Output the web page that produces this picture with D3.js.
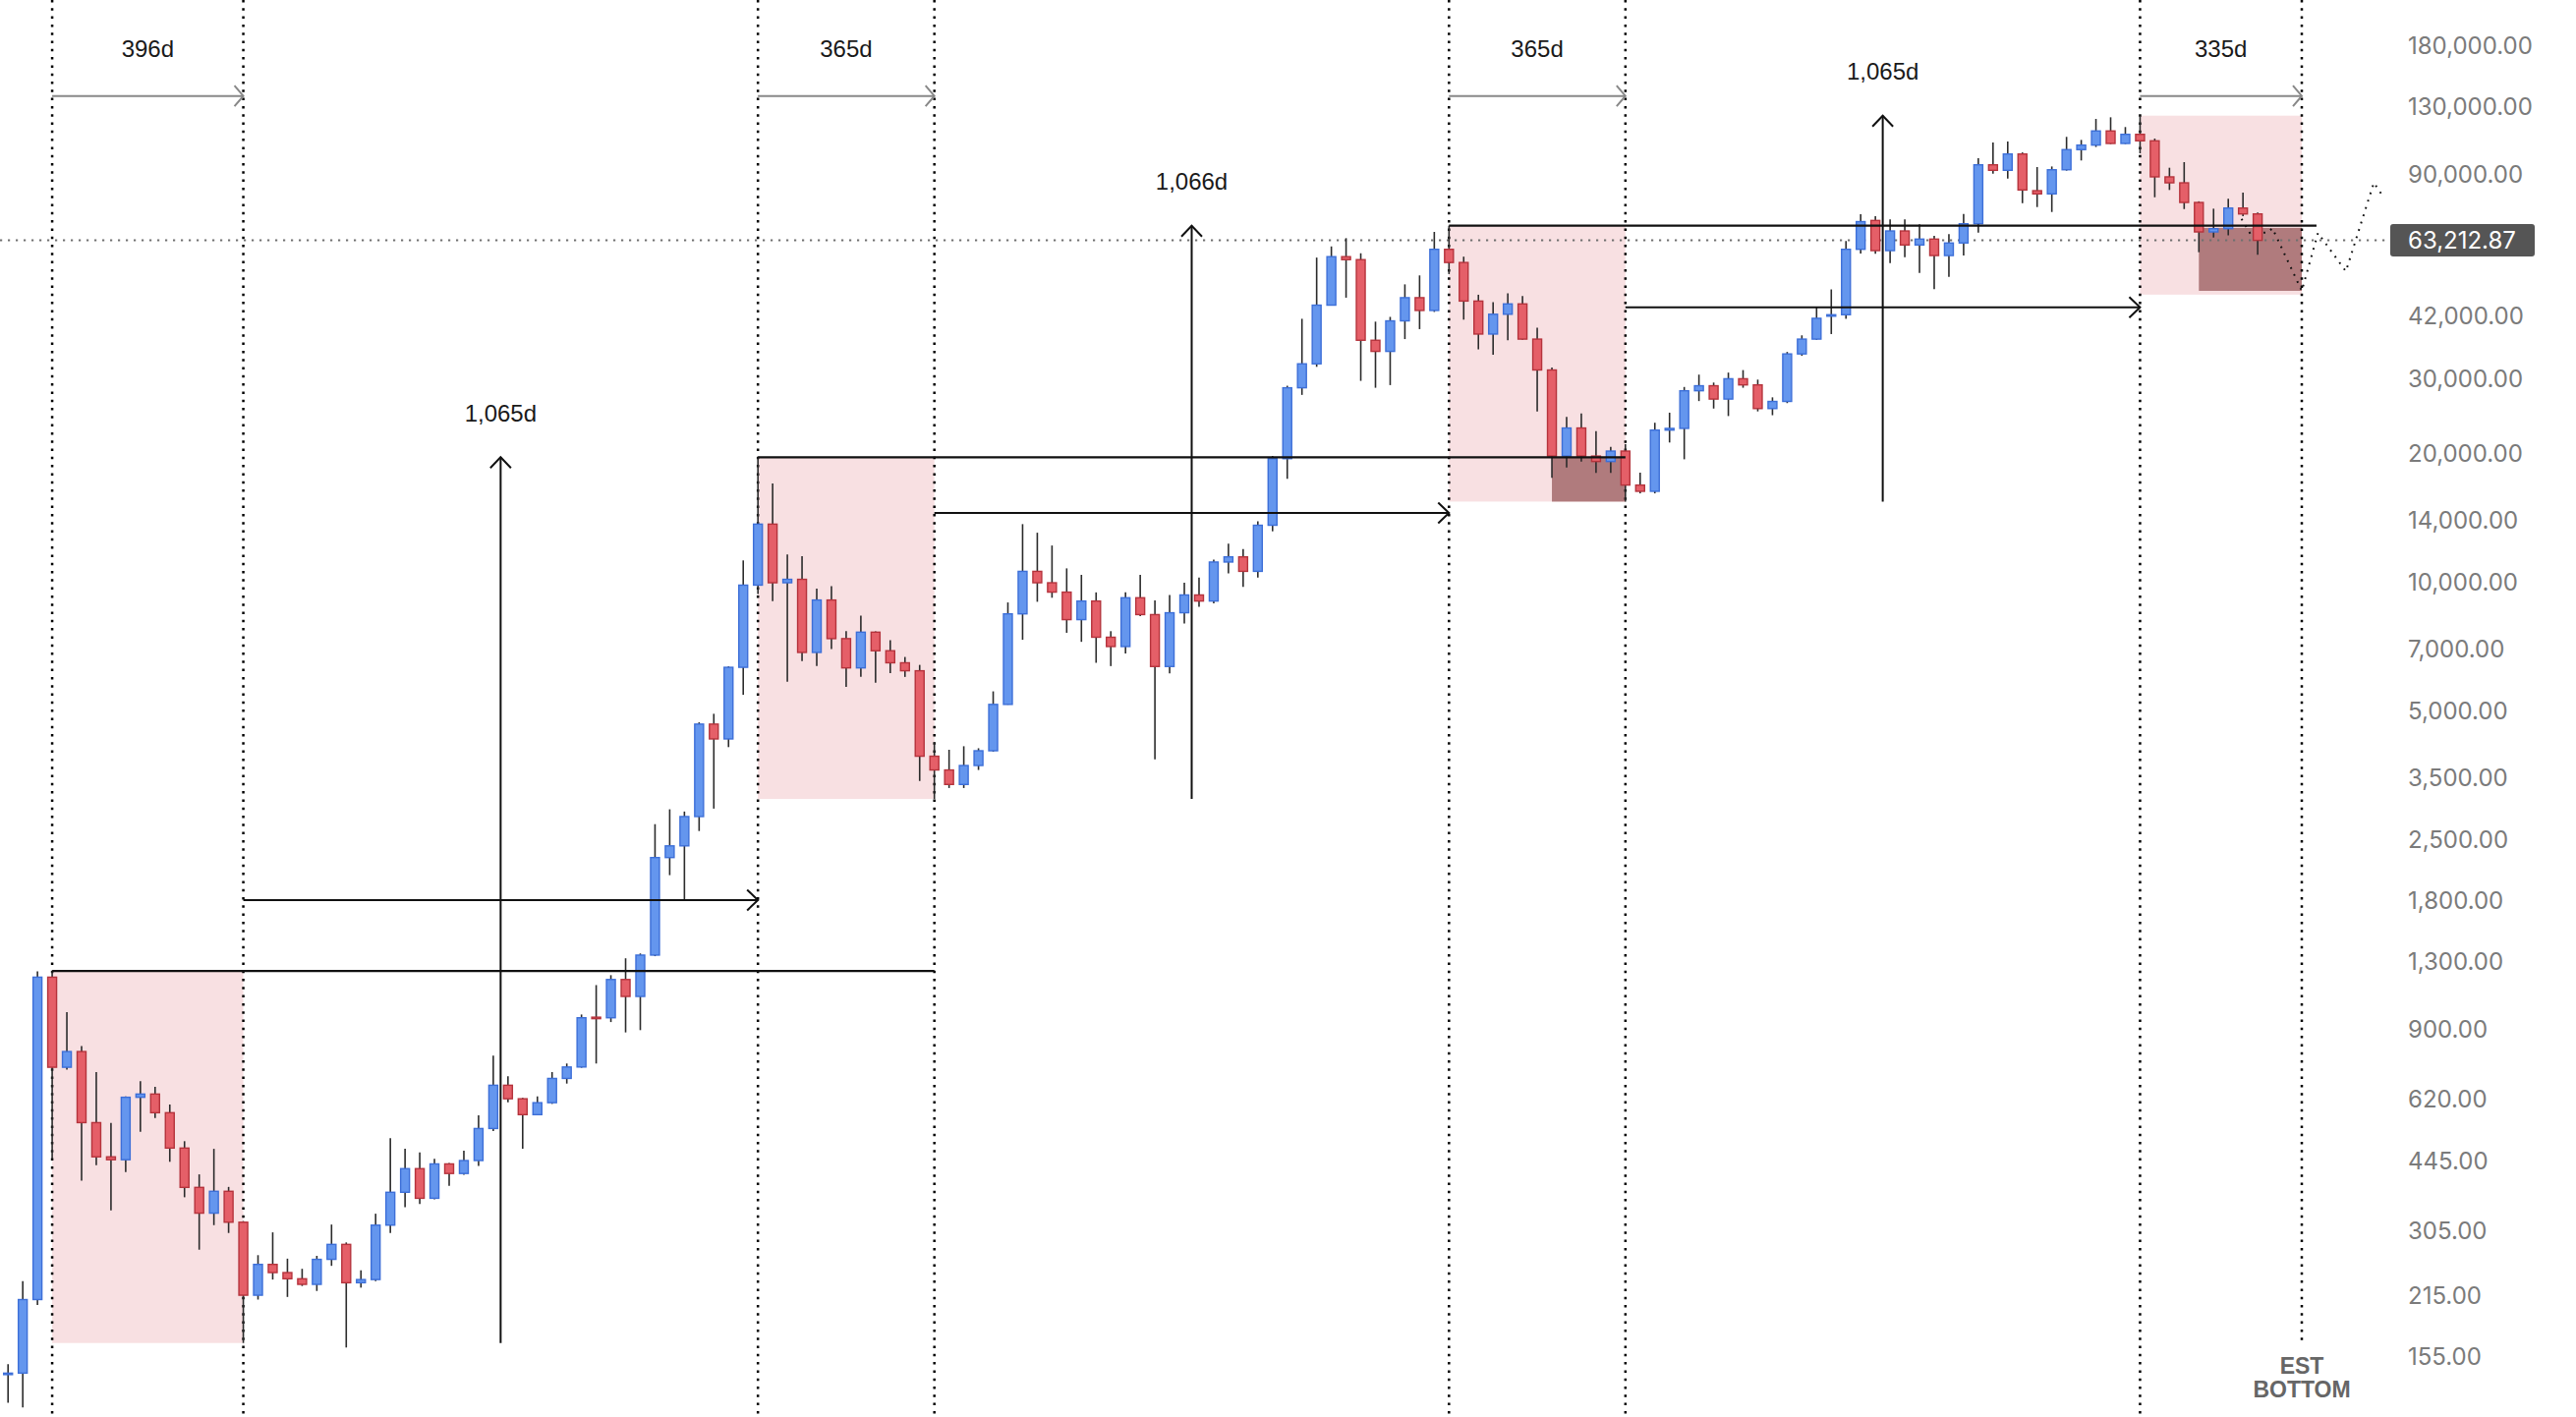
<!DOCTYPE html>
<html>
<head>
<meta charset="utf-8">
<script src="https://cdn.jsdelivr.net/npm/d3@7/dist/d3.min.js"></script>
<style>
  html, body { margin: 0; padding: 0; background: #fff; overflow: hidden; }
</style>
</head>
<body>
<div id="chart"></div>
<script>
// drawing space
const width = 2621,
  height = 1442;

// monthly candles, Sep 2013 .. Jun 2026
const months = [
  "2013-09","2013-10","2013-11","2013-12",
  "2014-01","2014-02","2014-03","2014-04","2014-05","2014-06","2014-07","2014-08","2014-09","2014-10","2014-11","2014-12",
  "2015-01","2015-02","2015-03","2015-04","2015-05","2015-06","2015-07","2015-08","2015-09","2015-10","2015-11","2015-12",
  "2016-01","2016-02","2016-03","2016-04","2016-05","2016-06","2016-07","2016-08","2016-09","2016-10","2016-11","2016-12",
  "2017-01","2017-02","2017-03","2017-04","2017-05","2017-06","2017-07","2017-08","2017-09","2017-10","2017-11","2017-12",
  "2018-01","2018-02","2018-03","2018-04","2018-05","2018-06","2018-07","2018-08","2018-09","2018-10","2018-11","2018-12",
  "2019-01","2019-02","2019-03","2019-04","2019-05","2019-06","2019-07","2019-08","2019-09","2019-10","2019-11","2019-12",
  "2020-01","2020-02","2020-03","2020-04","2020-05","2020-06","2020-07","2020-08","2020-09","2020-10","2020-11","2020-12",
  "2021-01","2021-02","2021-03","2021-04","2021-05","2021-06","2021-07","2021-08","2021-09","2021-10","2021-11","2021-12",
  "2022-01","2022-02","2022-03","2022-04","2022-05","2022-06","2022-07","2022-08","2022-09","2022-10","2022-11","2022-12",
  "2023-01","2023-02","2023-03","2023-04","2023-05","2023-06","2023-07","2023-08","2023-09","2023-10","2023-11","2023-12",
  "2024-01","2024-02","2024-03","2024-04","2024-05","2024-06","2024-07","2024-08","2024-09","2024-10","2024-11","2024-12",
  "2025-01","2025-02","2025-03","2025-04","2025-05","2025-06","2025-07","2025-08","2025-09","2025-10","2025-11","2025-12",
  "2026-01","2026-02","2026-03","2026-04","2026-05","2026-06"
];

const opens = [
  141, 142, 211, 1197,
  737, 802, 547, 455, 448, 627, 638, 577, 477, 386, 336, 378,
  320, 216, 255, 244, 236, 229, 262, 284, 231, 235, 315, 376,
  427, 364, 438, 416, 446, 530, 669, 622, 571, 609, 694, 738,
  965, 962, 1182, 1079, 1348, 2279, 2427, 2842, 4675, 4316, 6347, 9879,
  13720, 10006, 10193, 6876, 9118, 7407, 6327, 7669, 6939, 6503, 6230, 3933,
  3652, 3378, 3741, 4050, 5198, 8463, 10640, 10006, 9514, 8204, 9068, 7463,
  7098, 9230, 8430, 6375, 8514, 9370, 9068, 11187, 11502, 10640, 13637, 19518,
  28586, 32520, 44600, 57900, 56980, 36920, 34770, 40980, 46430, 43340, 60240, 56110,
  45590, 38170, 42470, 44900, 37150, 31460, 19790, 23020, 19790, 19220, 20330, 16930,
  16370, 22760, 22970, 28130, 28900, 26900, 30010, 29030, 25560, 26560, 34300, 37150,
  42190, 42360, 60240, 70370, 59820, 66500, 61660, 63650, 58250, 62330, 69120, 94940,
  92170, 100620, 82600, 81190, 92450, 103030, 105570, 113930, 106510, 111870, 108030, 88980,
  86170, 77520, 66150, 67310, 75220, 72870
];

const highs = [
  149, 233, 1235, 1237,
  991, 826, 718, 546, 630, 684, 663, 603, 495, 414, 475, 387,
  322, 268, 303, 263, 249, 267, 316, 287, 247, 335, 503, 475,
  466, 450, 440, 470, 569, 785, 702, 625, 630, 718, 752, 979,
  1147, 1210, 1325, 1360, 2728, 2955, 2920, 4720, 4942, 6380, 11285, 19666,
  17077, 11650, 11550, 9693, 9818, 7710, 8388, 7700, 7340, 6710, 6430, 4243,
  4072, 4150, 4105, 5576, 9000, 13720, 13100, 12228, 10812, 10440, 9500, 7710,
  9500, 10440, 9100, 9370, 10006, 10290, 11330, 12345, 12000, 13930, 19800, 28900,
  41440, 57620, 61180, 63970, 58970, 40810, 41870, 49880, 52340, 66150, 68400, 57900,
  47170, 45320, 47500, 46870, 39480, 31900, 24450, 24890, 22630, 20800, 21110, 18100,
  23680, 25000, 28710, 30680, 29400, 31020, 31440, 29870, 27150, 34670, 37910, 44110,
  48540, 63000, 72790, 72000, 70760, 70760, 68910, 64750, 65400, 72850, 98360, 107080,
  107640, 101500, 93800, 94100, 110360, 108560, 121540, 122620, 116350, 123700, 109350, 93460,
  96310, 78000, 74970, 79050, 81740, 73400
];

const lows = [
  121, 118, 205, 450,
  728, 400, 435, 341, 419, 521, 561, 443, 366, 276, 315, 302,
  167, 211, 235, 214, 227, 221, 253, 163, 225, 233, 302, 347,
  353, 362, 389, 413, 433, 523, 610, 475, 570, 605, 675, 735,
  752, 940, 889, 900, 1340, 2073, 1804, 2629, 2966, 4130, 5473, 9414,
  9068, 5874, 6565, 6389, 7004, 5711, 6027, 5840, 6150, 6027, 3442, 3124,
  3314, 3314, 3652, 4030, 5190, 7360, 9032, 9230, 7643, 7280, 6503, 6389,
  6840, 8355, 3868, 6140, 8040, 8790, 8950, 10520, 9790, 10290, 13200, 17510,
  27510, 32000, 44500, 46430, 29670, 28586, 29000, 37150, 39200, 43000, 52710, 41250,
  35150, 34150, 36920, 37000, 25170, 17600, 18600, 19220, 18080, 18080, 15490, 16190,
  16190, 21290, 19450, 26610, 25560, 24550, 28590, 25170, 24660, 26320, 33950, 37000,
  38170, 41440, 58890, 58830, 55940, 57730, 53050, 48580, 51950, 58250, 65910, 90500,
  88150, 77220, 75630, 73650, 92000, 97190, 104500, 106200, 106200, 101000, 79720, 82910,
  74810, 59310, 64190, 64980, 72000, 58500
];

const closes = [
  142, 211, 1197, 737,
  802, 547, 455, 448, 627, 638, 577, 477, 386, 336, 378, 320,
  216, 255, 244, 236, 229, 262, 284, 231, 235, 315, 376, 427,
  364, 438, 416, 446, 530, 669, 622, 571, 609, 694, 738, 962,
  962, 1182, 1079, 1348, 2279, 2427, 2842, 4675, 4316, 6347, 9879, 13720,
  10006, 10193, 6876, 9118, 7407, 6327, 7669, 6939, 6503, 6230, 3933, 3652,
  3378, 3741, 4050, 5198, 8463, 10640, 10006, 9514, 8204, 9068, 7463, 7098,
  9230, 8430, 6375, 8514, 9370, 9068, 11187, 11502, 10640, 13637, 19518, 28586,
  32520, 44600, 57900, 56980, 36920, 34770, 40980, 46430, 43340, 60240, 56110, 45590,
  38170, 42470, 44900, 37150, 31460, 19790, 23020, 19790, 19220, 20330, 16930, 16370,
  22760, 22970, 28130, 28900, 26900, 30010, 29030, 25560, 26560, 34300, 37150, 41550,
  42360, 60240, 69930, 59820, 66500, 61660, 63650, 58250, 62330, 69120, 94940, 92170,
  100620, 82910, 81190, 92450, 103030, 105570, 113930, 106510, 111870, 108030, 88980, 86170,
  77520, 66150, 67310, 75220, 72870, 63212.87
];

// price axis
const yTicks = [180000, 130000, 90000, 42000, 30000, 20000, 14000, 10000, 7000, 5000,
  3500, 2500, 1800, 1300, 900, 620, 445, 305, 215, 155];
const lastPrice = 63212.87;

// cycle markers (tops & bottoms, plus projected bottom)
const cycleMarks = ["2013-12", "2015-01", "2017-12", "2018-12", "2021-11", "2022-11", "2025-10", "2026-09"];

// top -> bottom spans
const bearSpans = [
  { from: "2013-12", to: "2015-01", label: "396d" },
  { from: "2017-12", to: "2018-12", label: "365d" },
  { from: "2021-11", to: "2022-11", label: "365d" },
  { from: "2025-10", to: "2026-09", label: "335d" }
];

// bottom -> top spans
const bullSpans = [
  { from: "2015-01", to: "2017-12", low: 167, high: 19666, label: "1,065d" },
  { from: "2018-12", to: "2021-11", low: 3124, high: 68400, label: "1,066d" },
  { from: "2022-11", to: "2025-10", low: 15490, high: 123700, label: "1,065d" }
];

// bear market boxes
const bearZones = [
  { from: "2013-12", to: "2015-01", top: 1237, bottom: 167 },
  { from: "2017-12", to: "2018-12", top: 19666, bottom: 3124 },
  { from: "2021-11", to: "2022-11", top: 68400, bottom: 15490 },
  { from: "2025-10", to: "2026-09", top: 123700, bottom: 47200 }
];

// below previous ATH
const deepZones = [
  { from: "2022-06", to: "2022-11", top: 19666, bottom: 15490 },
  { from: "2026-02", to: "2026-09", top: 67600, bottom: 48170 }
];

// previous cycle highs
const athLines = [
  { from: "2013-12", to: "2018-12", price: 1237 },
  { from: "2017-12", to: "2022-11", price: 19666 },
  { from: "2021-11", to: "2026-10", price: 68400 }
];

const levelArrows = [
  { from: "2015-01", to: "2017-12", price: 1813 },
  { from: "2018-12", to: "2021-11", price: 14570 },
  { from: "2022-11", to: "2025-10", price: 44100 }
];

// projected path (month number since Sep 2013, price)
const projMonth = [151.9, 152.5, 153.7, 154.0, 156.0, 157.1, 159.0, 160.9, 161.4];
const projPrice = [71000, 65500, 66000, 67500, 48170, 65800, 53500, 86200, 81300];

// month string -> month number
const mi = m => {
  const [yy, mm] = m.split("-").map(Number);
  return (yy - 2013) * 12 + mm - 9;
};

const candles = months.map((m, i) => ({
  m, i: mi(m), o: opens[i], h: highs[i], l: lows[i], c: closes[i]
}));

// scales
const xScale = d3.scaleLinear()
  .domain([0, 156])
  .range([8.2, 2342]);

const yScale = d3.scaleLog()
  .domain([155, 180000])
  .range([1380.8, 46.8]);

const xm = m => xScale(mi(m));

const svg = d3.select("#chart")
  .append("svg")
  .attr("width", width)
  .attr("height", height)
  .style("display", "block");

const annoFont = "'Liberation Sans', Arial, Helvetica, sans-serif";

// pink boxes
svg.selectAll("rect.zone")
  .data(bearZones)
  .join("rect")
  .attr("class", "zone")
  .attr("x", d => xm(d.from))
  .attr("width", d => xm(d.to) - xm(d.from))
  .attr("y", d => yScale(d.top))
  .attr("height", d => yScale(d.bottom) - yScale(d.top))
  .attr("fill", "#f8e0e2");

svg.selectAll("rect.deep")
  .data(deepZones)
  .join("rect")
  .attr("class", "deep")
  .attr("x", d => xm(d.from))
  .attr("width", d => xm(d.to) - xm(d.from))
  .attr("y", d => yScale(d.top))
  .attr("height", d => yScale(d.bottom) - yScale(d.top))
  .attr("fill", "#b07b7d");

// vertical dotted cycle lines
svg.selectAll("line.cycle")
  .data(cycleMarks)
  .join("line")
  .attr("class", "cycle")
  .attr("x1", d => xm(d))
  .attr("x2", d => xm(d))
  .attr("y1", 0)
  .attr("y2", (d, i) => i === cycleMarks.length - 1 ? 1366 : height)
  .attr("stroke", "#000")
  .attr("stroke-width", 2.5)
  .attr("stroke-dasharray", "2.5,5.8");

// last price dotted line
svg.append("line")
  .attr("x1", 0)
  .attr("x2", 2432)
  .attr("y1", yScale(lastPrice))
  .attr("y2", yScale(lastPrice))
  .attr("stroke", "#707070")
  .attr("stroke-width", 2)
  .attr("stroke-dasharray", "2.2,5.8");

// projection
const proj = projMonth.map((p, i) => [xScale(p), yScale(projPrice[i])]);
svg.append("path")
  .attr("d", d3.line()(proj))
  .attr("fill", "none")
  .attr("stroke", "#111")
  .attr("stroke-width", 2)
  .attr("stroke-dasharray", "1.8,6");

// candles
const candleG = svg.append("g").attr("class", "candles");
const bodyW = 9;

candleG.selectAll("line.wick")
  .data(candles)
  .join("line")
  .attr("class", "wick")
  .attr("x1", d => xScale(d.i))
  .attr("x2", d => xScale(d.i))
  .attr("y1", d => yScale(d.h))
  .attr("y2", d => yScale(d.l))
  .attr("stroke", "#2b2b2b")
  .attr("stroke-width", 1.6);

candleG.selectAll("rect.body")
  .data(candles)
  .join("rect")
  .attr("class", "body")
  .attr("x", d => xScale(d.i) - bodyW / 2)
  .attr("width", bodyW)
  .attr("y", d => yScale(Math.max(d.o, d.c)))
  .attr("height", d => Math.max(1.5, Math.abs(yScale(d.o) - yScale(d.c))))
  .attr("fill", d => d.c >= d.o ? "#6496ee" : "#e55f68")
  .attr("stroke", d => d.c >= d.o ? "#3d6fd8" : "#b5333c")
  .attr("stroke-width", 1.4);

// previous ATH lines
svg.selectAll("line.ath")
  .data(athLines)
  .join("line")
  .attr("class", "ath")
  .attr("x1", d => xm(d.from))
  .attr("x2", d => xm(d.to))
  .attr("y1", d => yScale(d.price))
  .attr("y2", d => yScale(d.price))
  .attr("stroke", "#111")
  .attr("stroke-width", 2.2);

// horizontal arrows
const hArrow = svg.selectAll("g.harrow")
  .data(levelArrows)
  .join("g")
  .attr("class", "harrow");

hArrow.append("line")
  .attr("x1", d => xm(d.from))
  .attr("x2", d => xm(d.to))
  .attr("y1", d => yScale(d.price))
  .attr("y2", d => yScale(d.price))
  .attr("stroke", "#111")
  .attr("stroke-width", 2);

hArrow.append("path")
  .attr("d", d => {
    const x = xm(d.to), y = yScale(d.price);
    return `M${x - 11},${y - 10.5}L${x},${y}L${x - 11},${y + 10.5}`;
  })
  .attr("fill", "none")
  .attr("stroke", "#111")
  .attr("stroke-width", 2);

// vertical arrows for bull runs
const vArrow = svg.selectAll("g.varrow")
  .data(bullSpans)
  .join("g")
  .attr("class", "varrow");

vArrow.append("line")
  .attr("x1", d => (xm(d.from) + xm(d.to)) / 2)
  .attr("x2", d => (xm(d.from) + xm(d.to)) / 2)
  .attr("y1", d => yScale(d.low))
  .attr("y2", d => yScale(d.high))
  .attr("stroke", "#111")
  .attr("stroke-width", 2);

vArrow.append("path")
  .attr("d", d => {
    const x = (xm(d.from) + xm(d.to)) / 2, y = yScale(d.high);
    return `M${x - 10.5},${y + 11}L${x},${y}L${x + 10.5},${y + 11}`;
  })
  .attr("fill", "none")
  .attr("stroke", "#111")
  .attr("stroke-width", 2);

vArrow.append("text")
  .attr("x", d => (xm(d.from) + xm(d.to)) / 2)
  .attr("y", d => yScale(d.high) - 43)
  .attr("text-anchor", "middle")
  .attr("dominant-baseline", "middle")
  .attr("font-family", annoFont)
  .attr("font-size", 24)
  .attr("fill", "#1a1a1a")
  .text(d => d.label);

// top gray arrows for bear spans
const topY = 97.7;
const bArrow = svg.selectAll("g.barrow")
  .data(bearSpans)
  .join("g")
  .attr("class", "barrow");

bArrow.append("line")
  .attr("x1", d => xm(d.from))
  .attr("x2", d => xm(d.to))
  .attr("y1", topY)
  .attr("y2", topY)
  .attr("stroke", "#888")
  .attr("stroke-width", 2);

bArrow.append("path")
  .attr("d", d => {
    const x = xm(d.to);
    return `M${x - 9},${topY - 10.5}L${x},${topY}L${x - 9},${topY + 10.5}`;
  })
  .attr("fill", "none")
  .attr("stroke", "#888")
  .attr("stroke-width", 2);

bArrow.append("text")
  .attr("x", d => (xm(d.from) + xm(d.to)) / 2)
  .attr("y", 52)
  .attr("text-anchor", "middle")
  .attr("dominant-baseline", "middle")
  .attr("font-family", annoFont)
  .attr("font-size", 24)
  .attr("fill", "#1a1a1a")
  .text(d => d.label);

// EST BOTTOM
const estX = xm(cycleMarks[cycleMarks.length - 1]);
svg.append("text")
  .attr("x", estX)
  .attr("y", 1398)
  .attr("text-anchor", "middle")
  .attr("font-family", annoFont)
  .attr("font-weight", "bold")
  .attr("font-size", 23)
  .attr("fill", "#666")
  .text("EST");
svg.append("text")
  .attr("x", estX)
  .attr("y", 1422)
  .attr("text-anchor", "middle")
  .attr("font-family", annoFont)
  .attr("font-weight", "bold")
  .attr("font-size", 23)
  .attr("fill", "#666")
  .text("BOTTOM");

// price axis
const yAxis = d3.axisRight(yScale)
  .tickValues(yTicks)
  .tickFormat(d3.format(",.2f"))
  .tickSize(0)
  .tickPadding(0);

const yAxisGroup = svg.append("g")
  .attr("class", "yAxis")
  .attr("transform", `translate(${2450}, ${0})`)
  .call(yAxis);

yAxisGroup.select(".domain").remove();
yAxisGroup.selectAll("text")
  .attr("font-family", "Inter, 'Noto Sans', sans-serif")
  .attr("font-size", 24)
  .attr("fill", "#7b7b7b");

// last price label
const ly = yScale(lastPrice);
svg.append("rect")
  .attr("x", 2432)
  .attr("y", ly - 16.5)
  .attr("width", 147)
  .attr("height", 33)
  .attr("rx", 3)
  .attr("fill", "#555");
svg.append("text")
  .attr("x", 2450)
  .attr("y", ly)
  .attr("dy", "0.35em")
  .attr("font-family", "Inter, 'Noto Sans', sans-serif")
  .attr("font-size", 24)
  .attr("fill", "#fff")
  .text(d3.format(",.2f")(lastPrice));
</script>
</body>
</html>
